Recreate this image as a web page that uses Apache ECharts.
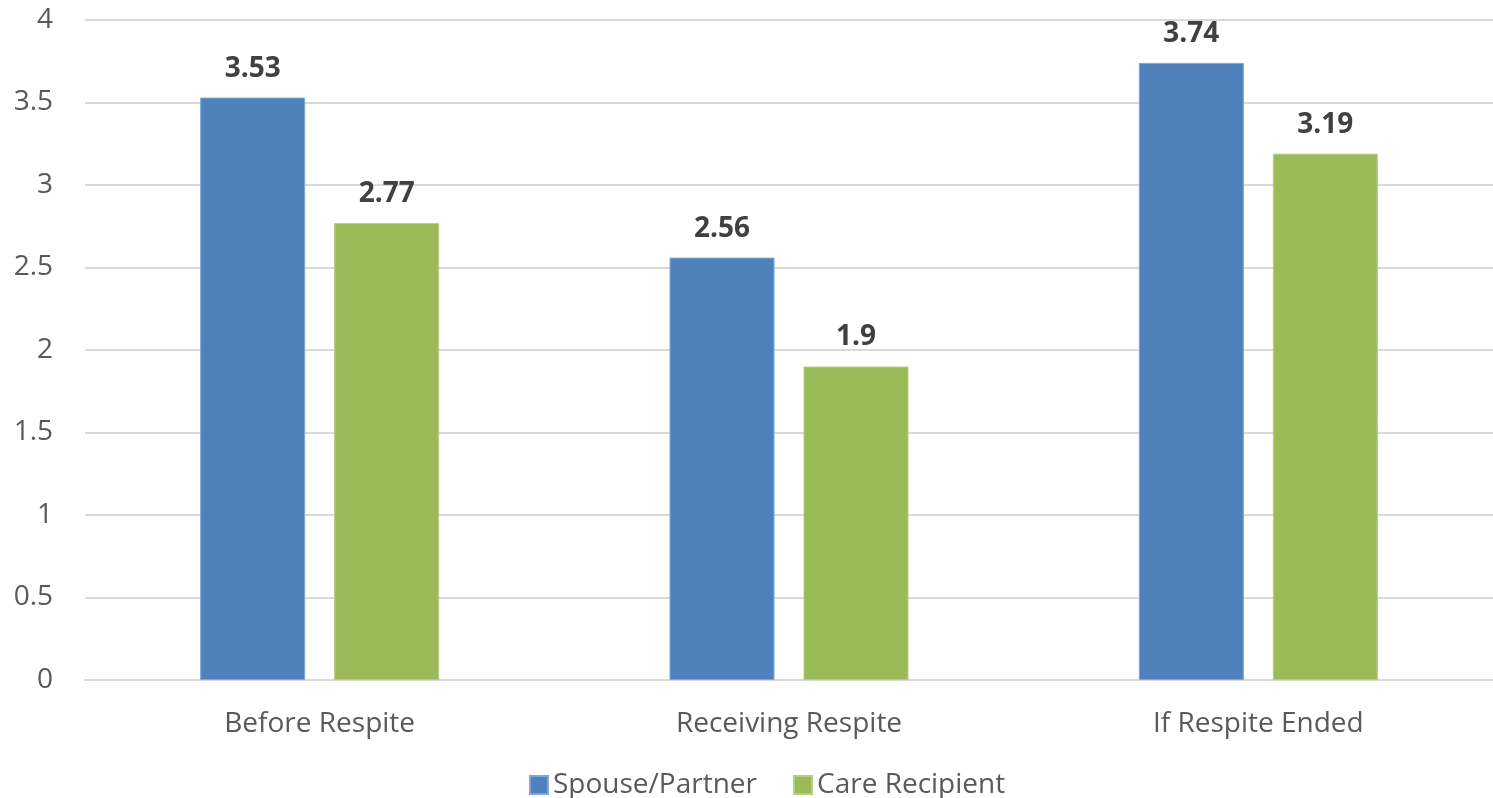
<!DOCTYPE html>
<html>
<head>
<meta charset="utf-8">
<script src="https://cdn.jsdelivr.net/npm/echarts@6/dist/echarts.min.js"></script>
<style>
  html, body { margin: 0; padding: 0; background: #ffffff; }
  #chart { width: 1493px; height: 798px; }
</style>
</head>
<body>
<div id="chart"></div>
<script>
const categories = ['Before Respite', 'Receiving Respite', 'If Respite Ended'];
const spousePartner = [3.53, 2.56, 3.74];
const careRecipient = [2.77, 1.9, 3.19];
const yTicks = { min: 0, max: 4, interval: 0.5 };

const FONT = '"Open Sans", "Liberation Sans", sans-serif';
const chart = echarts.init(document.getElementById('chart'), null, { renderer: 'canvas' });

const labelStyle = {
  show: true,
  position: 'top',
  distance: 15,
  fontFamily: FONT,
  fontSize: 28,
  fontWeight: 'bold',
  color: '#404040'
};

chart.setOption({
  animation: false,
  backgroundColor: '#ffffff',
  textStyle: { fontFamily: FONT },
  grid: { left: 85, width: 1412, top: 20, height: 660, containLabel: false },
  legend: {
    bottom: -6,
    left: 524,
    itemWidth: 18,
    itemHeight: 18,
    itemGap: 36,
    icon: 'rect',
    textStyle: { fontFamily: FONT, fontSize: 28, color: '#595959' },
    data: ['Spouse/Partner', 'Care Recipient']
  },
  xAxis: {
    type: 'category',
    data: categories,
    axisLine: { show: true, lineStyle: { color: '#d9d9d9', width: 2 } },
    axisTick: { show: false },
    axisLabel: { fontFamily: FONT, fontSize: 28, color: '#595959', margin: 30 }
  },
  yAxis: {
    type: 'value',
    min: yTicks.min,
    max: yTicks.max,
    interval: yTicks.interval,
    axisLine: { show: false },
    axisTick: { show: false },
    splitLine: { lineStyle: { color: '#d9d9d9', width: 2 } },
    axisLabel: { fontFamily: FONT, fontSize: 28, color: '#595959', margin: 32 }
  },
  series: [
    {
      name: 'Spouse/Partner',
      type: 'bar',
      data: spousePartner,
      barWidth: 105,
      barGap: '27.6%',
      itemStyle: { color: '#4f81bd', borderColor: '#7ea6d8', borderWidth: 1 },
      label: labelStyle
    },
    {
      name: 'Care Recipient',
      type: 'bar',
      data: careRecipient,
      barWidth: 105,
      barGap: '27.6%',
      itemStyle: { color: '#9bbb59', borderColor: '#b5cf80', borderWidth: 1 },
      label: labelStyle
    }
  ]
});
</script>
</body>
</html>
